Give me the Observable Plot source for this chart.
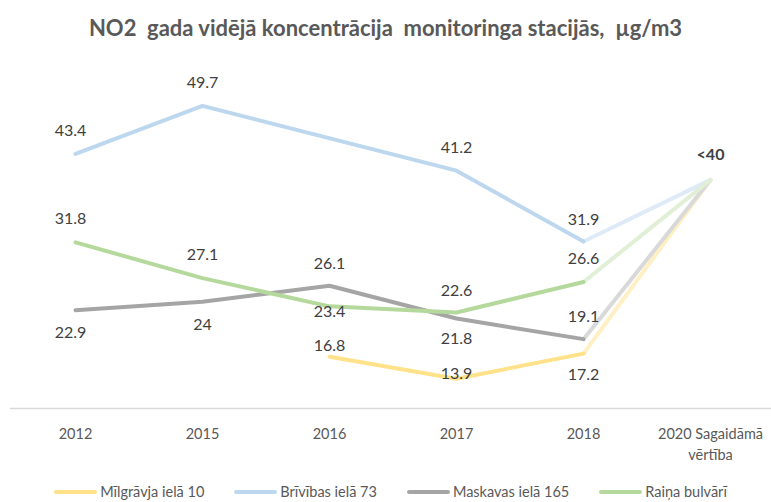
<!DOCTYPE html>
<html>
<head>
<meta charset="utf-8">
<script src="https://cdn.jsdelivr.net/npm/d3@7"></script>
<script src="https://cdn.jsdelivr.net/npm/@observablehq/plot@0.6"></script>
<style>
  html, body { margin: 0; padding: 0; background: #fff; }
  body { width: 771px; height: 502px; overflow: hidden; font-family: Lato, "Open Sans", sans-serif; }
  #title { height: 55px; line-height: 55px; text-align: center; white-space: pre; font-weight: bold; font-size: 22px; color: #595959; }
  #chart svg { display: block; }
  #legend { display: flex; justify-content: center; gap: 30px; margin-top: 13px; font-size: 14.5px; color: #595959; padding-left: 10px; }
  #legend .item { display: flex; align-items: center; gap: 3px; }
  #legend .sw { width: 43px; height: 4px; border-radius: 2px; }
</style>
</head>
<body>
<div id="title"></div>
<div id="chart"></div>
<div id="legend"></div>
<script>
const titleText = "NO2  gada vidējā koncentrācija  monitoringa stacijās,  µg/m3";
const years = ["2012", "2015", "2016", "2017", "2018", "2020 Sagaidāmā vērtība"];
const seriesNames = ["Mīlgrāvja ielā 10", "Brīvības ielā 73", "Maskavas ielā 165", "Raiņa bulvārī"];
const milgravja = [null, null, 16.8, 13.9, 17.2, 40];
const brivibas = [43.4, 49.7, null, 41.2, 31.9, 40];
const maskavas = [22.9, 24, 26.1, 21.8, 19.1, 40];
const raina = [31.8, 27.1, 23.4, 22.6, 26.6, 40];
const targetLabel = "<40";

const seriesValues = [milgravja, brivibas, maskavas, raina];
const colors = ["#ffe28a", "#bdd7ee", "#a5a5a5", "#b5d99c"];
const lightColors = ["#fff0c4", "#deebf7", "#d9d9d9", "#e0efd6"];

// label offsets (style), per series per year
const labelDy = [
  [0, 0, -11, -5, 21],
  [-23, -23, 0, -23, -22],
  [23, 23, -22, 20, -22],
  [-23, -23, 6, -22, -23]
];

const rows = [];
seriesValues.forEach((vals, s) => {
  vals.forEach((v, i) => {
    if (v != null) rows.push({series: seriesNames[s], s, year: years[i], i, value: v,
      dy: i < 5 ? labelDy[s][i] : 0, dx: i === 0 ? -5 : 0});
  });
});
const mainRows = rows.filter(d => d.i < 5);
const targetRows = rows.filter(d => d.i >= 4);

document.getElementById("title").textContent = titleText;

const marks = [
  Plot.ruleY([10], {stroke: "#d9d9d9", strokeWidth: 1.5, insetLeft: -65, insetRight: -61}),
  Plot.axisX({tickSize: 0, tickPadding: 16, fontSize: 14.5, fill: "#595959", lineHeight: 1.45, label: null,
    tickFormat: d => d.replace(" Sagaidāmā ", " Sagaidāmā\n")}),
];
seriesNames.forEach((name, s) => {
  marks.push(Plot.line(targetRows.filter(d => d.s === s), {x: "year", y: "value", stroke: lightColors[s], strokeWidth: 4, strokeLinecap: "round", strokeLinejoin: "round"}));
});
seriesNames.forEach((name, s) => {
  marks.push(Plot.line(mainRows.filter(d => d.s === s), {x: "year", y: "value", stroke: colors[s], strokeWidth: 4, strokeLinecap: "round", strokeLinejoin: "round"}));
});
const dyGroups = d3.group(mainRows, d => d.dy + "," + d.dx);
for (const [key, grp] of dyGroups) {
  const [dy, dx] = key.split(",").map(Number);
  marks.push(Plot.text(grp, {x: "year", y: "value", text: d => String(d.value), dy, dx, fill: "#404040", fontSize: 16}));
}
marks.push(Plot.text([{year: years[5], value: 40}], {x: "year", y: "value", text: () => targetLabel, dy: -25, fill: "#404040", fontSize: 16, fontWeight: "bold"}));

const chart = Plot.plot({
  width: 771,
  height: 415,
  marginLeft: 75,
  marginRight: 61,
  marginTop: 10,
  marginBottom: 62,
  style: {fontFamily: "Lato, 'Open Sans', sans-serif", overflow: "visible"},
  x: {type: "point", domain: years, padding: 0, axis: null},
  y: {domain: [10, 55], axis: null},
  marks
});
document.getElementById("chart").appendChild(chart);

const legend = document.getElementById("legend");
seriesNames.forEach((name, s) => {
  const item = document.createElement("div");
  item.className = "item";
  const sw = document.createElement("div");
  sw.className = "sw";
  sw.style.background = colors[s];
  const lab = document.createElement("span");
  lab.textContent = name;
  item.appendChild(sw); item.appendChild(lab);
  legend.appendChild(item);
});
</script>
</body>
</html>
